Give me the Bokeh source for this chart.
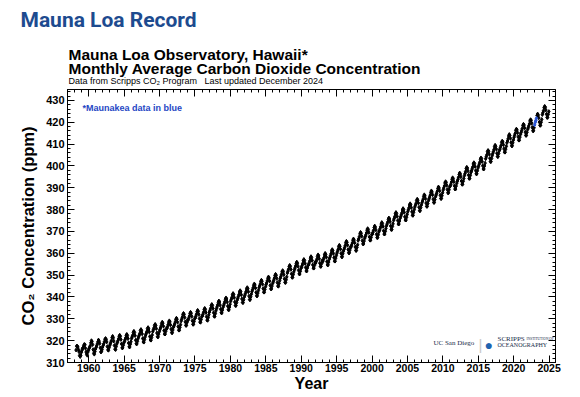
import math
from bokeh.plotting import figure
from bokeh.models import Range1d, LinearAxis, SingleIntervalTicker, Label, CustomJSTickFormatter, ColumnDataSource
from bokeh.core.properties import value
from bokeh.embed import file_html
from bokeh.resources import INLINE

# ---------------- data (monthly CO2, ppm) ----------------
NaN = float("nan")
start_1958 = (1958, 3)
co2_1958_1969 = [
    315.7, 317.5, 317.5, 317.1, 315.9, 314.9, 313.2, 312.7, 313.3, 314.7,
    315.6, 316.5, 316.7, 317.7, 318.3, 318.1, 316.5, 314.8, 313.8, 313.3, 314.8, 315.6,
    316.4, 317.0, 317.6, 319.0, 320.0, 319.6, 318.2, 315.9, 314.2, 313.8, 315.0, 316.2,
    316.9, 317.7, 318.5, 319.5, 320.3, 319.8, 318.7, 316.7, 314.8, 315.0, 315.9, 317.1,
    317.9, 318.6, 319.5, 320.6, 321.0, 320.5, 319.4, 317.3, 315.8, 315.6, 316.8, 317.8,
    318.5, 319.3, 320.0, 321.4, 322.0, 321.3, 319.8, 317.8, 316.1, 315.9, 317.3, 318.5,
    319.2, 320.0, 320.8, 322.0, 322.5, 322.0, 320.5, 318.5, 316.7, 316.7, 317.9, 319.0,
    319.6, 320.4, 321.2, 322.4, 322.9, 322.3, 320.9, 318.9, 317.2, 317.1, 318.4, 319.5,
    321.0, 321.7, 322.5, 323.8, 324.3, 323.7, 322.3, 320.2, 318.6, 318.5, 319.7, 320.9,
    321.8, 322.5, 323.3, 324.6, 325.1, 324.5, 323.1, 321.0, 319.4, 319.3, 320.5, 321.7,
    322.7, 323.4, 324.2, 325.5, 326.0, 325.4, 324.0, 321.9, 320.3, 320.2, 321.4, 322.6,
    324.2, 325.0, 325.8, 327.0, 327.5, 326.9, 325.5, 323.5, 321.8, 321.7, 323.0, 324.1,
]
start_1970 = (1970, 1)
co2_1970s = [
    325.0, 325.8, 326.7, 327.9, 328.5, 328.0, 326.6, 324.6, 323.0, 323.0, 324.3, 325.5,
    325.6, 326.4, 327.3, 328.5, 329.1, 328.6, 327.2, 325.3, 323.7, 323.6, 324.9, 326.2,
    326.8, 327.6, 328.5, 329.7, 330.3, 329.8, 328.4, 326.4, 324.8, 324.8, 326.1, 327.3,
    329.0, 329.8, 330.7, 331.9, 332.5, 332.0, 330.6, 328.6, 327.0, 327.0, 328.3, 329.5,
    329.5, 330.3, 331.2, 332.4, 333.0, 332.5, 331.1, 329.1, 327.5, 327.5, 328.8, 330.0,
    330.4, 331.2, 332.1, 333.3, 333.9, 333.4, 332.0, 330.1, 328.5, 328.4, 329.7, 331.0,
    331.3, 332.1, 333.0, 334.2, 334.8, 334.3, 332.9, 331.0, 329.4, 329.3, 330.6, 331.9,
    333.1, 333.9, 334.8, 336.0, 336.6, 336.1, 334.7, 332.8, 331.2, 331.1, 332.4, 333.7,
    334.7, 335.5, 336.4, 337.6, 338.2, 337.7, 336.3, 334.4, 332.8, 332.7, 334.0, 335.3,
    336.1, 336.9, 337.8, 339.0, 339.6, 339.1, 337.7, 335.8, 334.2, 334.1, 335.4, 336.7,
]
start_1980 = (1980, 1)
co2_1980s = [
    338.1, 338.9, 339.8, 341.0, 341.6, 341.1, 339.7, 337.7, 336.1, 336.1, 337.4, 338.6,
    339.4, 340.2, 341.1, 342.3, 342.9, 342.4, 341.0, 339.1, 337.5, 337.4, 338.7, 340.0,
    340.8, 341.6, 342.5, 343.7, 344.3, 343.8, 342.4, 340.4, 338.8, 338.8, 340.1, 341.3,
    342.5, 343.3, 344.2, 345.4, 346.0, 345.5, 344.1, 342.1, 340.5, 340.5, 341.8, 343.0,
    344.2, 345.0, 345.9, 347.1, 347.7, 347.2, 345.8, 343.8, 342.2, 342.2, 343.5, 344.7,
    345.7, 346.5, 347.4, 348.6, 349.2, 348.7, 347.3, 345.3, 343.7, 343.7, 345.0, 346.2,
    346.9, 347.7, 348.6, 349.8, 350.4, 349.9, 348.5, 346.6, 345.0, 344.9, 346.2, 347.5,
    348.6, 349.4, 350.3, 351.5, 352.1, 351.6, 350.2, 348.3, 346.7, 346.6, 347.9, 349.2,
    351.0, 351.8, 352.7, 353.9, 354.5, 354.0, 352.6, 350.6, 349.0, 349.0, 350.3, 351.5,
    352.5, 353.3, 354.2, 355.4, 356.0, 355.5, 354.1, 352.2, 350.6, 350.5, 351.8, 353.1,
]
start_1990 = (1990, 1)
co2_1990s = [
    353.6, 354.4, 355.3, 356.6, 357.2, 356.7, 355.4, 353.5, 351.9, 351.9, 353.3, 354.5,
    354.8, 355.6, 356.5, 357.8, 358.5, 358.0, 356.7, 354.7, 353.2, 353.2, 354.5, 355.8,
    355.6, 356.4, 357.3, 358.6, 359.3, 358.8, 357.5, 355.5, 354.0, 354.0, 355.3, 356.6,
    356.3, 357.1, 358.0, 359.3, 360.0, 359.5, 358.2, 356.2, 354.7, 354.7, 356.0, 357.3,
    358.1, 358.9, 359.8, 361.1, 361.7, 361.2, 359.9, 358.0, 356.4, 356.4, 357.8, 359.0,
    360.1, 360.9, 361.8, 363.1, 363.7, 363.2, 361.9, 360.0, 358.4, 358.4, 359.8, 361.0,
    361.8, 362.6, 363.5, 364.8, 365.5, 365.0, 363.7, 361.7, 360.2, 360.2, 361.5, 362.8,
    363.0, 363.8, 364.7, 366.0, 366.6, 366.1, 364.8, 362.9, 361.3, 361.3, 362.7, 363.9,
    365.9, 366.7, 367.6, 368.9, 369.6, 369.1, 367.8, 365.8, 364.3, 364.3, 365.6, 366.9,
    367.6, 368.4, 369.3, 370.6, 371.3, 370.8, 369.5, 367.5, 366.0, 366.0, 367.3, 368.6,
]
start_2000 = (2000, 1)
co2_2000s = [
    368.8, 369.6, 370.5, 371.8, 372.5, 372.0, 370.7, 368.7, 367.2, 367.2, 368.5, 369.8,
    370.4, 371.2, 372.1, 373.4, 374.1, 373.6, 372.3, 370.3, 368.8, 368.8, 370.1, 371.4,
    372.6, 373.4, 374.3, 375.6, 376.2, 375.7, 374.4, 372.5, 370.9, 370.9, 372.3, 373.5,
    375.1, 375.9, 376.8, 378.1, 378.7, 378.2, 376.9, 375.0, 373.4, 373.4, 374.8, 376.0,
    376.8, 377.6, 378.5, 379.8, 380.5, 380.0, 378.7, 376.7, 375.2, 375.2, 376.5, 377.8,
    379.1, 379.9, 380.8, 382.1, 382.7, 382.2, 380.9, 379.0, 377.4, 377.4, 378.8, 380.0,
    381.2, 382.0, 382.9, 384.2, 384.8, 384.3, 383.0, 381.1, 379.5, 379.5, 380.9, 382.1,
    383.1, 383.9, 384.8, 386.1, 386.8, 386.3, 385.0, 383.0, 381.5, 381.5, 382.8, 384.1,
    384.9, 385.7, 386.6, 387.9, 388.6, 388.1, 386.8, 384.8, 383.3, 383.3, 384.6, 385.9,
    386.7, 387.5, 388.4, 389.7, 390.4, 389.9, 388.6, 386.6, 385.1, 385.1, 386.4, 387.7,
]
start_2010 = (2010, 1)
co2_2010s = [
    389.0, 389.9, 390.8, 392.2, 392.8, 392.4, 391.1, 389.2, 387.7, 387.7, 389.1, 390.4,
    390.8, 391.6, 392.6, 393.9, 394.6, 394.1, 392.8, 390.9, 389.4, 389.4, 390.8, 392.1,
    393.0, 393.8, 394.8, 396.1, 396.8, 396.3, 395.0, 393.1, 391.6, 391.6, 393.0, 394.3,
    395.6, 396.5, 397.4, 398.8, 399.4, 399.0, 397.7, 395.8, 394.3, 394.3, 395.7, 397.0,
    397.7, 398.6, 399.5, 400.9, 401.5, 401.1, 399.8, 397.9, 396.4, 396.4, 397.8, 399.1,
    399.9, 400.8, 401.7, 403.1, 403.7, 403.3, 402.0, 400.1, 398.6, 398.6, 400.0, 401.3,
    403.3, 404.2, 405.1, 406.5, 407.1, 406.7, 405.4, 403.5, 402.0, 402.0, 403.4, 404.7,
    405.7, 406.5, 407.5, 408.8, 409.5, 409.0, 407.7, 405.8, 404.3, 404.3, 405.7, 407.0,
    407.6, 408.5, 409.4, 410.8, 411.4, 411.0, 409.7, 407.8, 406.3, 406.3, 407.7, 409.0,
    410.6, 411.4, 412.4, 413.7, 414.4, 413.9, 412.6, 410.7, 409.2, 409.2, 410.6, 411.9,
]
start_2020 = (2020, 1)
co2_2020s = [
    413.1, 414.0, 414.9, 416.3, 416.9, 416.5, 415.2, 413.3, 411.8, 411.8, 413.2, 414.5,
    415.3, 416.2, 417.1, 418.5, 419.1, 418.7, 417.4, 415.5, 414.0, 414.0, 415.4, 416.7,
    417.4, 418.3, 419.2, 420.6, 421.2, 420.8, 419.5, 417.6, 416.1, 416.1, 417.5, NaN,
    NaN, NaN, NaN, 423.1, 423.8, 423.3, 422.0, 420.1, 418.6, 418.6, 420.0, 421.3,
    423.5, 424.4, 425.3, 426.7, 427.3, 426.9, 425.6, 423.7, 422.2, 422.2, 423.6, 424.9,
]
# Maunakea substitute record (shown in blue)
start_maunakea = (2022, 12)
maunakea_ppm = [418.8, 420.0, 420.8, 421.8]

x_tick_interval = 5
y_tick_interval = 10


def month_dates(start, n):
    y0, m0 = start
    return [y0 + (m0 - 1 + i + 0.5) / 12.0 for i in range(n)]


blocks = [(start_1958, co2_1958_1969), (start_1970, co2_1970s), (start_1980, co2_1980s),
          (start_1990, co2_1990s), (start_2000, co2_2000s), (start_2010, co2_2010s),
          (start_2020, co2_2020s)]
xs, ys = [], []
for st, vals in blocks:
    for d, v in zip(month_dates(st, len(vals)), vals):
        if not math.isnan(v):
            xs.append(d)
            ys.append(v)
mlo = ColumnDataSource(dict(x=xs, y=ys))
mk = ColumnDataSource(dict(x=month_dates(start_maunakea, len(maunakea_ppm)), y=maunakea_ppm))

FONT = "Liberation Sans"
W = 578
HEAD_H = 88
MAIN_H = 307

# ---------------- header (titles), its own root so nothing aligns it ----------------
head = figure(width=W, height=HEAD_H, x_range=Range1d(0, W), y_range=Range1d(HEAD_H, 0),
              x_axis_type=None, y_axis_type=None, output_backend="svg", toolbar_location=None,
              title=None, min_border=0, min_border_left=0, min_border_right=0,
              min_border_top=0, min_border_bottom=0)
head.outline_line_color = None
head.grid.visible = False
head.background_fill_color = "white"
head.border_fill_color = "white"


def htext(txt, x, y, size, color="black", font=FONT, style="bold"):
    head.text(x=[x], y=[y], text=[txt], text_font=value(font), text_font_size=value(size),
              text_font_style=style, text_color=color, text_align="left", text_baseline="alphabetic")


htext("Mauna Loa Record", 20, 19, "21px", color="#1d4b8f", font="Roboto")
htext("Mauna Loa Observatory, Hawaii*", 68, 54, "15.5px")
htext("Monthly Average Carbon Dioxide Concentration", 68, 68, "15.5px")
htext("Data from Scripps CO\u2082 Program \u00a0\u00a0Last updated December 2024", 68, 80, "9px", style="normal")

# ---------------- main chart ----------------
p = figure(width=W, height=MAIN_H, x_range=Range1d(1957.0, 2025.9), y_range=Range1d(310, 435),
           output_backend="svg", toolbar_location=None, title=None,
           min_border_left=67, min_border_right=23, min_border_top=1, min_border_bottom=33)
p.background_fill_color = "white"
p.border_fill_color = "white"
p.outline_line_color = "black"
p.outline_line_width = 1
p.xgrid.visible = False
p.ygrid.visible = False

p.xaxis.ticker = SingleIntervalTicker(interval=x_tick_interval, num_minor_ticks=5)
p.yaxis.ticker = SingleIntervalTicker(interval=y_tick_interval, num_minor_ticks=5)


def style_axis(ax):
    ax.major_tick_in = 7
    ax.major_tick_out = 0
    ax.minor_tick_in = 3
    ax.minor_tick_out = 0
    ax.axis_line_color = "black"
    ax.major_tick_line_color = "black"
    ax.minor_tick_line_color = "black"


for ax in (p.xaxis[0], p.yaxis[0]):
    style_axis(ax)
    ax.major_label_text_font = FONT
    ax.major_label_text_font_style = "bold"
    ax.major_label_text_color = "black"
    ax.axis_label_text_font = FONT
    ax.axis_label_text_font_style = "bold"
    ax.axis_label_text_color = "black"

p.xaxis.major_label_text_font_size = "10.5px"
p.xaxis.major_label_standoff = 1
p.xaxis.axis_label = "Year"
p.xaxis.axis_label_text_font_size = "16px"
p.xaxis.axis_label_standoff = 0

p.yaxis.major_label_text_font_size = "11px"
p.yaxis.major_label_standoff = 3
p.yaxis.axis_label = "CO\u2082 Concentration (ppm)"
p.yaxis.axis_label_text_font_size = "16.5px"
p.yaxis.axis_label_standoff = 6

empty = CustomJSTickFormatter(code="return ''")
top = LinearAxis(ticker=SingleIntervalTicker(interval=x_tick_interval, num_minor_ticks=5),
                 formatter=empty, major_label_text_font_size="0px", major_label_standoff=0)
right = LinearAxis(ticker=SingleIntervalTicker(interval=y_tick_interval, num_minor_ticks=5),
                   formatter=empty, major_label_text_font_size="0px", major_label_standoff=0)
style_axis(top)
style_axis(right)
p.add_layout(top, "above")
p.add_layout(right, "right")

p.scatter("x", "y", source=mlo, marker="diamond", size=3.8, color="black")
p.scatter("x", "y", source=mk, marker="diamond", size=3.8, color="#2a55d4")


def lab(text, x, y, size, color="black", font=FONT, style="bold"):
    p.add_layout(Label(x=x, y=y, x_units="screen", y_units="screen", text=text,
                       text_font=font, text_font_size=size, text_font_style=style,
                       text_color=color, text_align="left", text_baseline="alphabetic"))


lab("*Maunakea data in blue", 15, 255, "9px", color="#2546c4")

# logos (as text)
lab("UC San Diego", 366, 20, "7px", color="#182b49", font="Liberation Serif", style="normal")
lab("|", 411, 18, "15px", color="#c8c8c8", style="normal")
lab("\u25CF", 417, 18, "14px", color="#1e63b0", style="normal")
lab("SCRIPPS", 430, 24, "7px", color="#182b49", font="Liberation Serif", style="normal")
lab("INSTITUTION OF", 459, 24, "3.5px", color="#182b49", font="Liberation Serif", style="normal")
lab("OCEANOGRAPHY", 430, 18, "6px", color="#182b49", font="Liberation Serif", style="normal")

open("out.html", "w").write(file_html([head, p], INLINE))
